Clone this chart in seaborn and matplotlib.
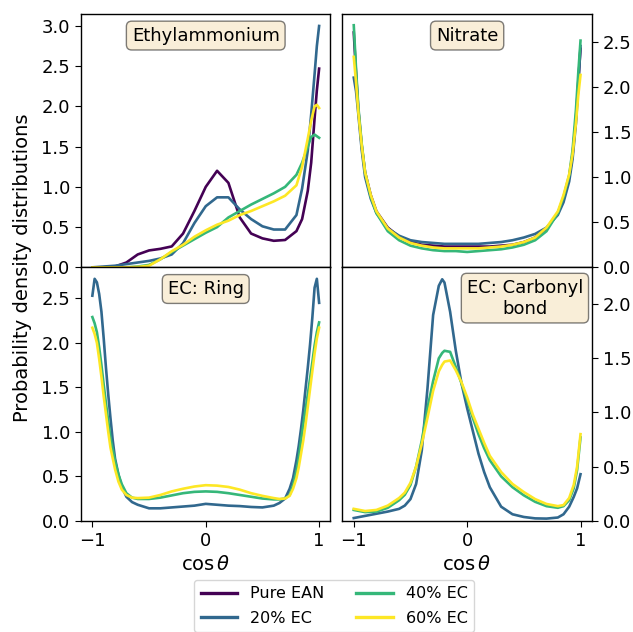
import matplotlib
matplotlib.use("Agg")
import matplotlib.pyplot as plt
import numpy as np
import pandas as pd
import seaborn as sns


# ---- data ----

series_names = ["Pure EAN", "20% EC", "40% EC", "60% EC"]

# Ethylammonium
cos_eth = [-1.0, -0.9, -0.8, -0.7, -0.6, -0.5, -0.4, -0.3, -0.2, -0.1, 0.0,
           0.1, 0.2, 0.3, 0.4, 0.5, 0.6, 0.7, 0.8, 0.85, 0.9, 0.93, 0.96, 0.98, 1.0]
eth_pure = [0.0, 0.0, 0.01, 0.06, 0.16, 0.21, 0.23, 0.26, 0.42, 0.7, 1.0,
            1.2, 1.05, 0.62, 0.42, 0.36, 0.33, 0.34, 0.45, 0.6, 0.95, 1.3, 1.85, 2.2, 2.47]
eth_20 = [0.0, 0.01, 0.02, 0.04, 0.06, 0.08, 0.11, 0.16, 0.3, 0.55, 0.76,
          0.87, 0.87, 0.72, 0.6, 0.51, 0.47, 0.47, 0.65, 0.98, 1.45, 1.9, 2.4, 2.75, 3.0]
eth_40 = [0.0, 0.0, 0.0, 0.0, 0.01, 0.03, 0.1, 0.19, 0.27, 0.35, 0.43,
          0.5, 0.62, 0.7, 0.78, 0.85, 0.92, 1.0, 1.15, 1.3, 1.5, 1.62, 1.65, 1.63, 1.61]
eth_60 = [0.0, 0.0, 0.0, 0.0, 0.005, 0.02, 0.1, 0.2, 0.28, 0.38, 0.46,
          0.53, 0.58, 0.65, 0.7, 0.76, 0.82, 0.89, 1.02, 1.25, 1.6, 1.82, 2.0, 2.02, 1.98]

# Nitrate
cos_nit = [-1.0, -0.98, -0.96, -0.93, -0.9, -0.85, -0.8, -0.7, -0.6, -0.5,
           -0.4, -0.3, -0.2, -0.1, 0.0, 0.1, 0.2, 0.3, 0.4, 0.5,
           0.6, 0.7, 0.8, 0.85, 0.9, 0.93, 0.96, 0.98, 1.0]
nit_pure = [2.6, 2.15, 1.75, 1.35, 1.05, 0.8, 0.62, 0.44, 0.34, 0.28,
            0.25, 0.24, 0.23, 0.23, 0.23, 0.23, 0.23, 0.24, 0.25, 0.28,
            0.33, 0.43, 0.6, 0.76, 1.0, 1.25, 1.65, 2.05, 2.42]
nit_20 = [2.1, 1.95, 1.7, 1.3, 1.0, 0.76, 0.6, 0.43, 0.35, 0.3,
          0.28, 0.27, 0.26, 0.26, 0.26, 0.26, 0.27, 0.28, 0.3, 0.33,
          0.37, 0.44, 0.58, 0.72, 0.95, 1.2, 1.6, 2.0, 2.45]
nit_40 = [2.68, 2.2, 1.78, 1.37, 1.05, 0.78, 0.6, 0.4, 0.3, 0.24,
          0.21, 0.19, 0.18, 0.18, 0.17, 0.18, 0.19, 0.2, 0.22, 0.25,
          0.3, 0.4, 0.6, 0.78, 1.02, 1.3, 1.75, 2.15, 2.51]
nit_60 = [2.33, 2.05, 1.72, 1.35, 1.05, 0.8, 0.62, 0.43, 0.33, 0.27,
          0.24, 0.22, 0.21, 0.21, 0.21, 0.21, 0.22, 0.23, 0.25, 0.28,
          0.33, 0.44, 0.62, 0.8, 1.03, 1.25, 1.6, 1.9, 2.13]

# EC: Ring
cos_ring = [-1.0, -0.98, -0.96, -0.94, -0.92, -0.9, -0.88, -0.86, -0.84, -0.82,
            -0.8, -0.77, -0.74, -0.7, -0.65, -0.6, -0.5, -0.4, -0.3, -0.2,
            -0.1, 0.0, 0.1, 0.2, 0.3, 0.4, 0.5, 0.6, 0.65, 0.7,
            0.74, 0.77, 0.8, 0.82, 0.84, 0.86, 0.88, 0.9, 0.92, 0.94,
            0.96, 0.98, 1.0]
ring_20 = [2.53, 2.72, 2.68, 2.55, 2.35, 2.05, 1.72, 1.42, 1.15, 0.9,
           0.7, 0.52, 0.38, 0.27, 0.21, 0.18, 0.14, 0.14, 0.15, 0.16,
           0.17, 0.19, 0.18, 0.17, 0.165, 0.155, 0.15, 0.17, 0.2, 0.25,
           0.36, 0.48, 0.68, 0.84, 1.03, 1.24, 1.48, 1.72, 1.98, 2.28,
           2.62, 2.72, 2.45]
ring_40 = [2.29, 2.22, 2.12, 1.95, 1.75, 1.53, 1.32, 1.12, 0.93, 0.8,
           0.67, 0.52, 0.41, 0.31, 0.26, 0.245, 0.245, 0.26, 0.285, 0.31,
           0.325, 0.33, 0.325, 0.31, 0.29, 0.27, 0.25, 0.24, 0.24, 0.25,
           0.29, 0.4, 0.56, 0.7, 0.9, 1.08, 1.25, 1.42, 1.6, 1.78,
           1.97, 2.12, 2.23]
ring_60 = [2.17, 2.1, 2.0, 1.82, 1.62, 1.4, 1.2, 1.0, 0.82, 0.7,
           0.58, 0.44, 0.35, 0.29, 0.26, 0.255, 0.26, 0.29, 0.33, 0.36,
           0.385, 0.4, 0.395, 0.38, 0.35, 0.31, 0.28, 0.255, 0.245, 0.25,
           0.28, 0.36, 0.48, 0.6, 0.75, 0.9, 1.08, 1.28, 1.48, 1.68,
           1.88, 2.05, 2.17]

# EC: Carbonyl bond
cos_carb = [-1.0, -0.9, -0.8, -0.7, -0.6, -0.55, -0.5, -0.45, -0.4, -0.35,
            -0.3, -0.25, -0.22, -0.2, -0.15, -0.1, -0.05, 0.0, 0.05, 0.1,
            0.15, 0.2, 0.3, 0.4, 0.5, 0.6, 0.7, 0.8, 0.85, 0.9,
            0.94, 0.97, 1.0]
carb_20 = [0.025, 0.045, 0.065, 0.085, 0.11, 0.14, 0.2, 0.34, 0.65, 1.22,
           1.9, 2.17, 2.23, 2.2, 1.93, 1.57, 1.27, 1.04, 0.83, 0.62,
           0.45, 0.31, 0.13, 0.06, 0.035, 0.022, 0.02, 0.03, 0.06, 0.13,
           0.22, 0.3, 0.43]
carb_40 = [0.1, 0.08, 0.085, 0.12, 0.19, 0.24, 0.33, 0.5, 0.74, 1.04,
           1.29, 1.5, 1.55, 1.57, 1.56, 1.42, 1.27, 1.11, 0.95, 0.8,
           0.67, 0.56, 0.41, 0.31, 0.235, 0.175, 0.135, 0.12, 0.135, 0.19,
           0.3, 0.47, 0.77]
carb_60 = [0.11, 0.09, 0.1, 0.14, 0.21, 0.26, 0.35, 0.5, 0.71, 0.95,
           1.2, 1.38, 1.44, 1.47, 1.48, 1.39, 1.28, 1.14, 0.98, 0.85,
           0.72, 0.6, 0.45, 0.34, 0.265, 0.2, 0.155, 0.135, 0.145, 0.21,
           0.33, 0.5, 0.8]


def tabela(cos_vals, curvas):
    """Junta as curvas de um painel num dataframe longo."""
    partes = []
    for nome, valores in curvas.items():
        partes.append(pd.DataFrame({"cos": cos_vals, "pdf": valores, "sistema": nome}))
    return pd.concat(partes, ignore_index=True)


paineis = [
    ("Ethylammonium", tabela(cos_eth, {"Pure EAN": eth_pure, "20% EC": eth_20,
                                       "40% EC": eth_40, "60% EC": eth_60})),
    ("Nitrate", tabela(cos_nit, {"Pure EAN": nit_pure, "20% EC": nit_20,
                                 "40% EC": nit_40, "60% EC": nit_60})),
    ("EC: Ring", tabela(cos_ring, {"20% EC": ring_20, "40% EC": ring_40,
                                   "60% EC": ring_60})),
    ("EC: Carbonyl\nbond", tabela(cos_carb, {"20% EC": carb_20, "40% EC": carb_40,
                                            "60% EC": carb_60})),
]

cores = dict(zip(series_names, plt.cm.viridis(np.linspace(0, 1, 4))))

plt.rcParams["font.family"] = ["DejaVu Sans"]
plt.rcParams["xtick.labelsize"] = 13
plt.rcParams["ytick.labelsize"] = 13
plt.rcParams["xtick.major.size"] = 4.5
plt.rcParams["ytick.major.size"] = 4.5
plt.rcParams["axes.linewidth"] = 1.0

fig, axes = plt.subplots(2, 2, figsize=(6.33, 6.32), dpi=100, sharex=True)
fig.subplots_adjust(left=0.128, right=0.935, top=0.978, bottom=0.176,
                    wspace=0.048, hspace=0)

for ax, (titulo, dados) in zip(axes.flat, paineis):
    sns.lineplot(data=dados, x="cos", y="pdf", hue="sistema", palette=cores,
                 hue_order=[s for s in series_names if s in dados["sistema"].unique()],
                 estimator=None, sort=False, linewidth=1.9, ax=ax, legend=False)
    ax.set_xlim(-1.1, 1.1)
    ax.set_ylim(bottom=0)
    ax.set_xlabel("")
    ax.set_ylabel("")
    caixa = dict(boxstyle="round", facecolor="wheat", alpha=0.5)
    if "Carbonyl" in titulo:
        ax.text(0.965, 0.955, titulo, transform=ax.transAxes, ha="right", va="top",
                multialignment="center", fontsize=13, bbox=caixa)
    else:
        ax.text(0.5, 0.95, titulo, transform=ax.transAxes, ha="center", va="top",
                fontsize=13, bbox=caixa)

for ax in axes[:, 1]:
    ax.yaxis.tick_right()

for ax in axes[1, :]:
    ax.set_xticks([-1, 0, 1])
    ax.set_xlabel(r"$\cos\theta$", fontsize=14)

fig.text(0.035, 0.576, "Probability density distributions", rotation=90,
         va="center", ha="center", fontsize=14)

linhas = [plt.Line2D([], [], color=cores[s], linewidth=2.4) for s in series_names]
fig.legend(linhas, series_names, loc="upper center", bbox_to_anchor=(0.528, 0.095),
           ncol=2, fontsize=11.5, columnspacing=2.0, handlelength=2.3,
           labelspacing=0.6)

fig.savefig("out.png", dpi=100)
